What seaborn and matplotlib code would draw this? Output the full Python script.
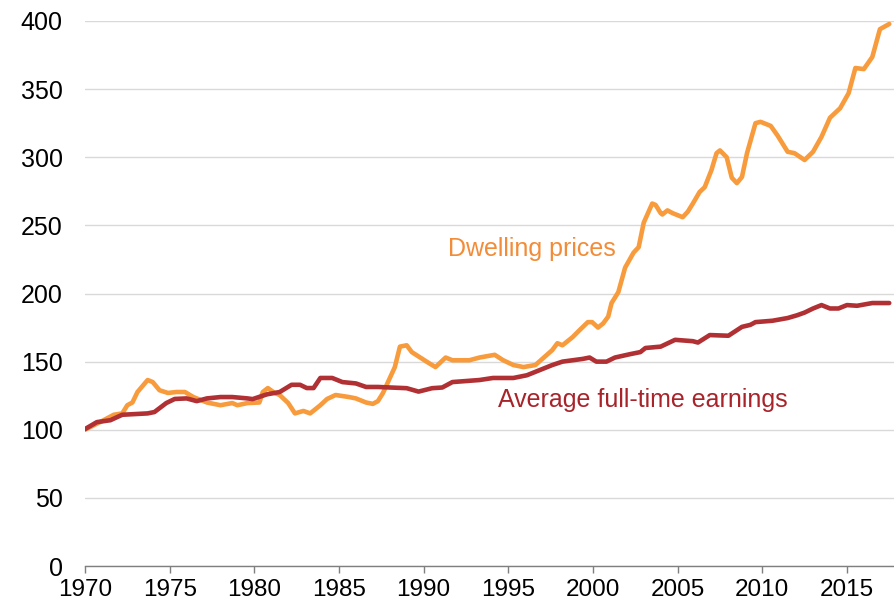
import matplotlib
matplotlib.use('Agg')
import matplotlib.pyplot as plt
import seaborn as sns
import pandas as pd

# ── data (index, 1970 = 100) ─────────────────────────────────
dwelling_years = [1970.0, 1970.9, 1971.7, 1972.2, 1972.5, 1972.8, 1973.1, 1973.7,
                  1974.0, 1974.4, 1974.9, 1975.4, 1975.9, 1976.4, 1977.2, 1978.0,
                  1978.7, 1979.0, 1979.6, 1980.3, 1980.5, 1980.8, 1981.2, 1981.5,
                  1982.0, 1982.4, 1982.9, 1983.3, 1983.9, 1984.3, 1984.8, 1985.6,
                  1986.0, 1986.6, 1987.0, 1987.3, 1987.6, 1988.3, 1988.6, 1989.0,
                  1989.3, 1989.8, 1990.3, 1990.7, 1991.3, 1991.7, 1992.7, 1993.3,
                  1994.2, 1994.7, 1995.3, 1995.9, 1996.6, 1997.1, 1997.6, 1997.9,
                  1998.2, 1998.8, 1999.2, 1999.7, 1999.95, 2000.3, 2000.6, 2000.9,
                  2001.1, 2001.5, 2001.9, 2002.4, 2002.7, 2003.0, 2003.5, 2003.7,
                  2004.0, 2004.1, 2004.4, 2004.7, 2005.3, 2005.6, 2005.9, 2006.3,
                  2006.6, 2007.0, 2007.3, 2007.5, 2007.9, 2008.2, 2008.5, 2008.8,
                  2009.1, 2009.6, 2009.9, 2010.5, 2010.9, 2011.5, 2011.9, 2012.5,
                  2013.0, 2013.5, 2014.0, 2014.6, 2015.1, 2015.5, 2016.0, 2016.5,
                  2016.95, 2017.5]
dwelling_values = [100, 105.7, 111, 112, 118, 120, 127.7, 136.5,
                   135, 129, 127, 127.7, 127.7, 124, 120, 118,
                   119.6, 118, 119.6, 120, 127.7, 130.6, 127, 125.5,
                   119.6, 112, 113.8, 112, 118, 122.6, 125.5, 124,
                   123, 120, 119, 121, 127, 146, 161, 162,
                   157, 153, 149, 146, 153, 151, 151, 153,
                   155, 151, 147.5, 146, 147.5, 153, 158.5, 163.5,
                   162, 168, 173, 179, 179, 175, 178, 183,
                   193, 201, 219, 230, 234, 252, 266, 265,
                   259, 258, 261, 259, 256, 260, 266, 274.5,
                   278, 290.6, 303, 305, 300, 285, 281, 285.5,
                   303, 325, 326, 323, 316, 304, 303, 298,
                   304, 315, 329, 336, 347, 365.5, 364.7, 373.6,
                   394, 397.8]

earnings_years = [1970.0, 1970.7, 1971.5, 1972.2, 1973.7, 1974.1, 1974.8, 1975.3,
                  1976.0, 1976.6, 1977.2, 1978.0, 1978.7, 1979.6, 1979.9, 1980.75,
                  1981.5, 1982.2, 1982.7, 1983.1, 1983.5, 1983.9, 1984.6, 1985.2,
                  1986.0, 1986.6, 1987.3, 1989.0, 1989.7, 1990.5, 1991.1, 1991.7,
                  1993.3, 1994.1, 1995.3, 1996.1, 1996.9, 1997.6, 1998.2, 1998.8,
                  1999.4, 1999.8, 2000.2, 2000.8, 2001.3, 2002.2, 2002.8, 2003.1,
                  2004.0, 2004.85, 2005.9, 2006.2, 2006.9, 2008.0, 2008.8, 2009.3,
                  2009.6, 2010.6, 2011.5, 2012.05, 2012.5, 2013.0, 2013.5, 2014.0,
                  2014.5, 2015.0, 2015.6, 2016.5, 2017.5]
earnings_values = [100.5, 105.6, 107, 111, 112, 113, 119.6, 122.6,
                   123, 121, 123, 124, 124, 123, 122.5, 126,
                   127.7, 133, 133, 130.6, 130.6, 138, 138, 135,
                   134, 131.4, 131.4, 130.5, 128, 130.5, 131, 135,
                   136.5, 138, 138, 140, 144, 147.5, 150, 151,
                   152, 153, 150, 150, 153, 155.5, 157, 160,
                   161, 166, 165, 164, 169.5, 169, 175.5, 177,
                   179, 180, 182, 184, 186, 189, 191.5, 189,
                   189, 191.5, 191, 193, 193]

year_ticks = [1970, 1975, 1980, 1985, 1990, 1995, 2000, 2005, 2010, 2015]
value_ticks = [0, 50, 100, 150, 200, 250, 300, 350, 400]

ORANGE = '#F79B3C'
DARK_RED = '#B03033'

sns.set_theme(style='white')
plt.rcParams['font.family'] = ['Liberation Sans', 'DejaVu Sans']

dwell = pd.DataFrame({'year': dwelling_years, 'value': dwelling_values})
earn = pd.DataFrame({'year': earnings_years, 'value': earnings_values})

fig = plt.figure(figsize=(8.95, 6.06), dpi=100)
ax = fig.add_axes([85 / 895, 1 - 566 / 606, 1 - 85 / 895, (566 - 21) / 606])

sns.lineplot(data=dwell, x='year', y='value', ax=ax, color=ORANGE,
             linewidth=3.3, estimator=None)
sns.lineplot(data=earn, x='year', y='value', ax=ax, color=DARK_RED,
             linewidth=3.3, estimator=None)

ax.set_xlim(1970, 2017.84)
ax.set_ylim(0, 400)
ax.set_xticks(year_ticks)
ax.set_yticks(value_ticks)
ax.set_xlabel('')
ax.set_ylabel('')

ax.yaxis.grid(True, color='#D9D9D9', linewidth=1)
ax.set_axisbelow(True)
for side in ['left', 'right', 'top']:
    ax.spines[side].set_visible(False)
ax.spines['bottom'].set_color('#7F7F7F')
ax.spines['bottom'].set_linewidth(1)

ax.tick_params(axis='y', length=0, pad=16, labelsize=18, colors='black')
ax.tick_params(axis='x', length=5, width=1, color='#7F7F7F', direction='out',
               pad=4, labelsize=17.5, labelcolor='black', bottom=True)

ax.text(1996.4, 233, 'Dwelling prices', color='#F28C38', fontsize=18,
        ha='center', va='center')
ax.text(1994.4, 122, 'Average full-time earnings', color='#A8242B',
        fontsize=18, ha='left', va='center')

fig.savefig('out.png', dpi=100)
